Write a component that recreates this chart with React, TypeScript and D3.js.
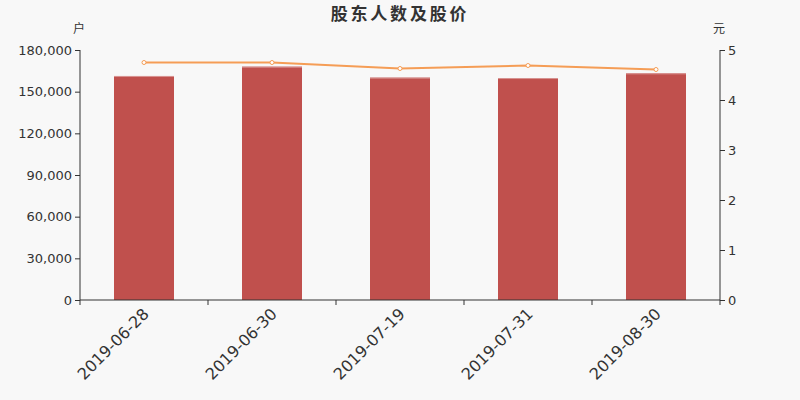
import { useEffect, useRef } from "react";
import * as d3 from "d3";

const dates = ["2019-06-28", "2019-06-30", "2019-07-19", "2019-07-31", "2019-08-30"];
const holders = [161300, 168000, 160100, 159800, 163200];
const prices = [4.75, 4.75, 4.63, 4.69, 4.61];
const leftTicks = [0, 30000, 60000, 90000, 120000, 150000, 180000];
const rightTicks = [0, 1, 2, 3, 4, 5];

export default function App() {
  const svgRef = useRef<SVGSVGElement | null>(null);

  useEffect(() => {
    if (!svgRef.current) return;
    const width = 800;
    const height = 400;
    const margin = { top: 50, right: 80, bottom: 100, left: 80 };
    const w = width - margin.left - margin.right;
    const h = height - margin.top - margin.bottom;
    const font = "'DejaVu Sans', 'Noto Sans CJK SC', sans-serif";

    const svg = d3.select(svgRef.current);
    svg.selectAll("*").remove();
    svg.attr("width", width).attr("height", height).style("background", "#f8f8f8");

    svg.append("text")
      .attr("x", width / 2)
      .attr("y", 20)
      .attr("text-anchor", "middle")
      .attr("font-family", "'Noto Sans CJK SC', sans-serif")
      .attr("font-size", 17)
      .attr("font-weight", 700)
      .attr("letter-spacing", 2.8)
      .attr("fill", "#333")
      .text("股东人数及股价");

    const g = svg.append("g").attr("transform", `translate(${margin.left},${margin.top})`);

    const band = d3.scaleBand<string>().domain(dates).range([0, w]);
    const y = d3.scaleLinear().domain([0, 180000]).range([h, 0]);
    const y2 = d3.scaleLinear().domain([0, 5]).range([h, 0]);
    const cx = (i: number) => band(dates[i])! + band.bandwidth() / 2;

    // bars
    g.selectAll("rect.bar")
      .data(holders)
      .enter()
      .append("rect")
      .attr("class", "bar")
      .attr("x", (_, i) => cx(i) - 30)
      .attr("y", d => y(d))
      .attr("width", 60)
      .attr("height", d => h - y(d))
      .attr("fill", "#c0504d");

    g.selectAll("line.bartop")
      .data(holders)
      .enter()
      .append("line")
      .attr("x1", (_, i) => cx(i) - 30)
      .attr("x2", (_, i) => cx(i) + 30)
      .attr("y1", d => y(d) + 0.5)
      .attr("y2", d => y(d) + 0.5)
      .attr("stroke", "#d89593")
      .attr("stroke-width", 1);

    // left axis
    const left = g.append("g").call(
      d3.axisLeft(y).tickValues(leftTicks).tickSize(5).tickFormat(d => d3.format(",")(Number(d)))
    );
    left.selectAll("text").attr("font-size", 13).attr("font-family", font).attr("fill", "#333");
    left.selectAll("line").attr("stroke", "#333");
    left.select(".domain").attr("stroke", "#333").attr("d", `M0,${h}V0`);

    // right axis
    const right = g.append("g").attr("transform", `translate(${w},0)`).call(
      d3.axisRight(y2).tickValues(rightTicks).tickSize(5).tickFormat(d => String(d))
    );
    right.selectAll("text").attr("font-size", 13).attr("font-family", font).attr("fill", "#333");
    right.selectAll("line").attr("stroke", "#333");
    right.select(".domain").attr("stroke", "#333").attr("d", `M0,${h}V0`);

    // bottom axis
    const bottom = g.append("g").attr("transform", `translate(0,${h})`);
    bottom.append("line").attr("x1", 0).attr("x2", w).attr("stroke", "#333");
    const bounds = [...dates.map(d => band(d)!), w];
    bottom.selectAll("line.tick")
      .data(bounds)
      .enter()
      .append("line")
      .attr("x1", d => d)
      .attr("x2", d => d)
      .attr("y1", 0)
      .attr("y2", 5)
      .attr("stroke", "#333");
    bottom.selectAll("text")
      .data(dates)
      .enter()
      .append("text")
      .attr("transform", d => `translate(${band(d)! + band.bandwidth() / 2 + 2},${11}) rotate(-45)`)
      .attr("text-anchor", "end")
      .attr("dy", "0.35em")
      .attr("font-size", 16)
      .attr("font-family", font)
      .attr("fill", "#333")
      .text(d => d);

    // unit labels
    svg.append("text").attr("x", 79).attr("y", 33).attr("text-anchor", "middle")
      .attr("font-size", 12).attr("font-family", "'Noto Sans CJK SC', sans-serif").attr("fill", "#333").text("户");
    svg.append("text").attr("x", 719).attr("y", 33).attr("text-anchor", "middle")
      .attr("font-size", 12).attr("font-family", "'Noto Sans CJK SC', sans-serif").attr("fill", "#333").text("元");

    // price line
    const line = d3.line<number>()
      .x((_, i) => cx(i))
      .y(d => y2(d));
    g.append("path")
      .datum(prices)
      .attr("d", line)
      .attr("fill", "none")
      .attr("stroke", "#f59d56")
      .attr("stroke-width", 2);
    g.selectAll("circle")
      .data(prices)
      .enter()
      .append("circle")
      .attr("cx", (_, i) => cx(i))
      .attr("cy", d => y2(d))
      .attr("r", 2)
      .attr("fill", "#fff")
      .attr("stroke", "#f59d56")
      .attr("stroke-width", 1);
  }, []);

  return (
    <div style={{ position: "absolute", left: 0, top: 0 }}>
      <svg ref={svgRef} />
    </div>
  );
}
